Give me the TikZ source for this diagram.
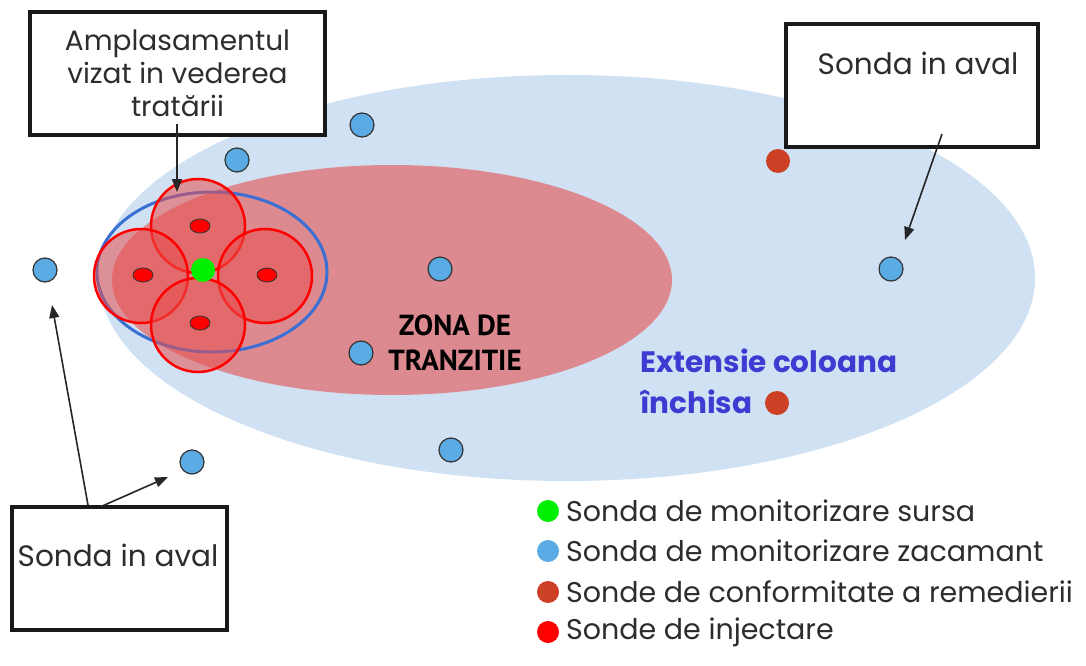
\documentclass[tikz,border=0pt]{standalone}
\usepackage{fontspec}
\setmainfont{Poppins}
\newfontfamily\zonafont{PT Sans}
\usetikzlibrary{arrows.meta}
\definecolor{lblue}{RGB}{207,225,242}
\definecolor{zonered}{RGB}{220,138,144}
\definecolor{ringblue}{RGB}{58,111,212}
\definecolor{circfill}{RGB}{232,80,80}
\definecolor{wellblue}{RGB}{90,171,227}
\definecolor{wellbrown}{RGB}{204,65,37}
\definecolor{wellgreen}{RGB}{0,238,0}
\definecolor{extblue}{RGB}{60,60,210}
\definecolor{txtgray}{RGB}{45,45,45}
\tikzset{
  bdot/.style={circle, minimum size=24pt, inner sep=0pt, fill=wellblue, draw=black!80, line width=1.2pt},
  odot/.style={circle, minimum size=24pt, inner sep=0pt, fill=wellbrown},
  gdot/.style={circle, minimum size=24pt, inner sep=0pt, fill=wellgreen},
  rdot/.style={circle, minimum size=22pt, inner sep=0pt, fill=red},
  inj/.style={ellipse, minimum width=20pt, minimum height=14pt, inner sep=0pt, fill=red, draw=black!80, line width=0.8pt},
  zonecirc/.style={circle, minimum size=94pt, inner sep=0pt, fill=circfill, fill opacity=0.55, draw=red, line width=2.5pt},
  callbox/.style={draw=black!90, line width=3.2pt, fill=white, inner sep=0pt},
  txt/.style={font=\fontsize{28}{33}\selectfont, text=txtgray, inner sep=0pt},
  legtxt/.style={font=\fontsize{28.5}{33}\selectfont, text=txtgray, inner sep=0pt, anchor=west},
  arr/.style={draw=black!85, line width=1.6pt, -{Triangle[length=13pt,width=10pt]}}
}
\usetikzlibrary{shapes.geometric}
\begin{document}
\begin{tikzpicture}[x=1pt,y=-1pt]
\useasboundingbox[fill=white] (0,0) rectangle (1086,666);
% zones
\fill[lblue] (567,278) ellipse [x radius=468pt, y radius=203pt];
\fill[zonered] (392,280) ellipse [x radius=280pt, y radius=115pt];
\draw[ringblue, line width=3pt] (212,272) ellipse [x radius=115pt, y radius=80pt];
% treatment circles
\node[zonecirc] (c1) at (198,226) {};
\node[zonecirc] (c2) at (141,276) {};
\node[zonecirc] (c3) at (265,276) {};
\node[zonecirc] (c4) at (198,325) {};
% injection wells
\node[inj] (i1) at (200,226) {};
\node[inj] (i2) at (143,275) {};
\node[inj] (i3) at (267,275) {};
\node[inj] (i4) at (200,323) {};
\node[gdot] (g1) at (203,270) {};
% monitoring wells
\node[bdot] (b1) at (362,125) {};
\node[bdot] (b2) at (237,160) {};
\node[bdot] (b3) at (45,270) {};
\node[bdot] (b4) at (440,269) {};
\node[bdot] (b5) at (361,353) {};
\node[bdot] (b6) at (451,450) {};
\node[bdot] (b7) at (192,462) {};
\node[bdot] (b8) at (891,269) {};
\node[odot] (o1) at (778,161) {};
\node[odot] (o2) at (777,403) {};
% texts
\node[font=\zonafont\bfseries\fontsize{29}{35}\selectfont, align=center, inner sep=0pt] (zona) at (455,343) {ZONA DE\\TRANZITIE};
\node[font=\bfseries\fontsize{29.5}{41}\selectfont, text=extblue, align=left, anchor=north west, inner sep=0pt] (ext) at (640,349) {Extensie coloana\\închisa};
% boxes
\node[callbox, minimum width=295pt, minimum height=123pt] (box1) at (177.5,73.5) {};
\node[txt, align=center] (t1) at (177.5,73) {Amplasamentul\\vizat in vederea\\tratării};
\node[callbox, minimum width=252pt, minimum height=123pt] (box2) at (912,85.5) {};
\node[txt, font=\fontsize{29.5}{33}\selectfont] (t2) at (918,63) {Sonda in aval};
\node[callbox, minimum width=215pt, minimum height=123pt] (box3) at (119.5,568.5) {};
\node[txt, font=\fontsize{29.5}{33}\selectfont] (t3) at (118,555) {Sonda in aval};
% arrows
\coordinate (a1s) at (177,124);
\coordinate (a1e) at (177,192);
\coordinate (a2s) at (942,134);
\coordinate (a2e) at (905,240);
\coordinate (a3s) at (88,505);
\coordinate (a3e) at (52,305);
\coordinate (a4s) at (100,507);
\coordinate (a4e) at (168,477);
\draw[arr] (a1s) -- (a1e);
\draw[arr] (a2s) -- (a2e);
\draw[arr] (a3s) -- (a3e);
\draw[arr] (a4s) -- (a4e);
% legend
\node[gdot, minimum size=22pt] (l1) at (548,511) {};
\node[legtxt] (lt1) at (566,511) {Sonda de monitorizare sursa};
\node[circle, minimum size=22pt, inner sep=0pt, fill=wellblue] (l2) at (548,551) {};
\node[legtxt] (lt2) at (566,551) {Sonda de monitorizare zacamant};
\node[odot, minimum size=22pt] (l3) at (548,592) {};
\node[legtxt] (lt3) at (566,592) {Sonde de conformitate a remedierii};
\node[rdot] (l4) at (548,632) {};
\node[legtxt] (lt4) at (566,632) {Sonde de injectare};
\end{tikzpicture}
\end{document}
